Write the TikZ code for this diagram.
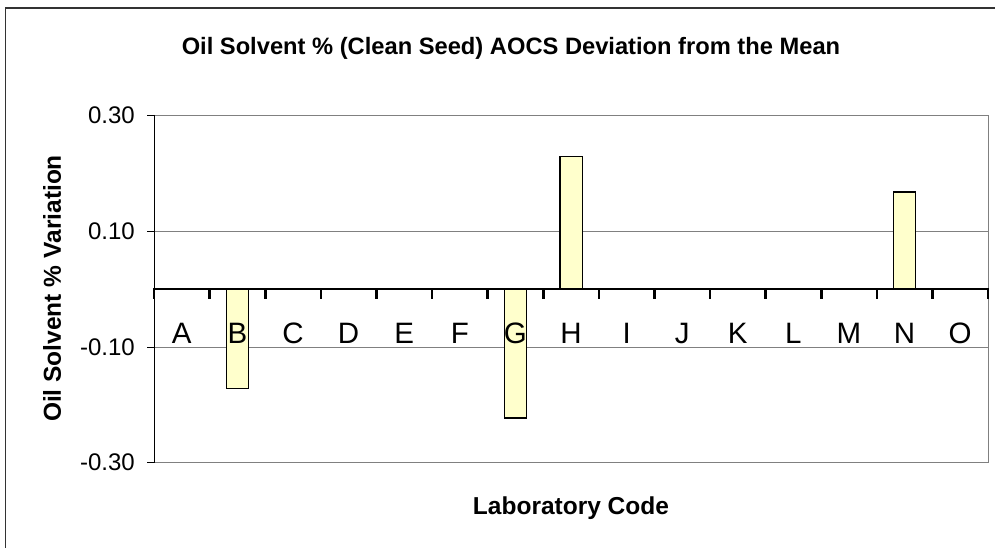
\documentclass[tikz,border=0pt]{standalone}
\usepackage{fontspec}
\setmainfont{Liberation Sans}
\definecolor{barfill}{HTML}{FFFFCC}
\definecolor{gridgray}{HTML}{808080}
\definecolor{framegray}{HTML}{333333}
\begin{document}
\begin{tikzpicture}[x=1pt,y=-1pt,
  gridline/.style={draw=gridgray, line width=0.9pt},
  barbox/.style={draw=black, line width=1.3pt, fill=barfill},
  ticklabel/.style={anchor=east, inner sep=0pt, font=\fontsize{24}{28}\selectfont},
  catlabel/.style={anchor=base, inner sep=0pt, font=\fontsize{29.5}{34}\selectfont},
  axistitle/.style={inner sep=0pt, font=\fontsize{24.5}{29}\selectfont\bfseries},
  zeroaxis/.style={line width=2.6pt, draw=black}]
\useasboundingbox (0,0) rectangle (995,548);
\fill[white] (0,0) rectangle (995,548);
% outer chart frame (runs past the right and bottom edges)
\draw[line width=1.6pt, draw=framegray] (5.5,560) -- (5.5,8.3) -- (1005,8.3);
% title
\node[anchor=base, inner sep=0pt, font=\fontsize{23.7}{28}\selectfont\bfseries] (title) at (511,55)
  {Oil Solvent \% (Clean Seed) AOCS Deviation from the Mean};
% plot area and gridlines
\draw[gridline] (154,115) rectangle (988,462);
\draw[gridline] (154,231) -- (988,231);
\draw[gridline] (154,347) -- (988,347);
% y axis
\draw[line width=0.9pt] (154.5,115) -- (154.5,462);
\foreach \yy/\lab [count=\k] in {115/0.30, 231/0.10, 347/-0.10, 462/-0.30}{
  \draw[line width=0.9pt] (147,\yy) -- (154.5,\yy);
  \node[ticklabel] (ytick\k) at (135,\yy) {\lab};
}
% bars
\def\bw{11.15}
\def\cw{55.6}
\foreach \i/\v in {1/388.4, 6/417.9, 7/156.6, 13/191.9}{
  \pgfmathsetmacro{\cx}{154+\cw*(\i+0.5)}
  \draw[barbox] ({\cx-\bw},289) rectangle ({\cx+\bw},\v);
}
% zero axis with tick marks
\draw[zeroaxis] (154,289) -- (988,289);
\foreach \i in {0,...,15}{
  \draw[zeroaxis] ({154+\cw*\i},288) -- ({154+\cw*\i},299);
}
% category labels
\foreach \l [count=\i from 0] in {A,B,C,D,E,F,G,H,I,J,K,L,M,N,O}{
  \node[catlabel] (cat\l) at ({154+\cw*(\i+0.5)},343) {\l};
}
% axis titles
\node[axistitle, rotate=90] (ytitle) at (52,288.5) {Oil Solvent \% Variation};
\node[axistitle, anchor=base] (xtitle) at (571,514) {Laboratory Code};
\end{tikzpicture}
\end{document}
